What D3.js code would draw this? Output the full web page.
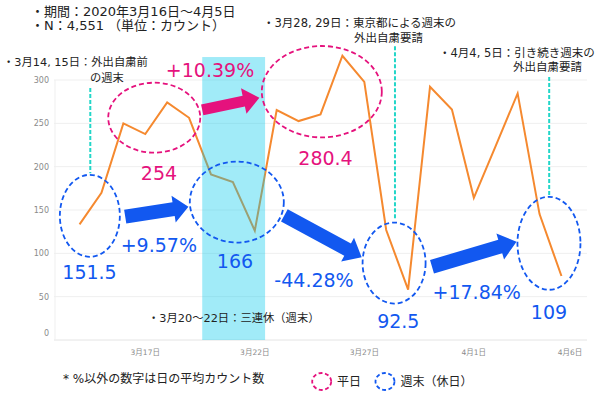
<!DOCTYPE html>
<html>
<head>
<meta charset="utf-8">
<script src="https://cdn.jsdelivr.net/npm/d3@7"></script>
<style>
  body { margin: 0; background: #fff; }
  svg { display: block; }
  text { font-family: "DejaVu Sans", "Noto Sans CJK JP", sans-serif; }
</style>
</head>
<body>
<svg id="chart" width="600" height="395"></svg>
<script>
// daily average counts, 3/14 .. 4/5
var days = ["2020-03-14","2020-03-15","2020-03-16","2020-03-17","2020-03-18","2020-03-19","2020-03-20",
  "2020-03-21","2020-03-22","2020-03-23","2020-03-24","2020-03-25","2020-03-26","2020-03-27","2020-03-28",
  "2020-03-29","2020-03-30","2020-03-31","2020-04-01","2020-04-02","2020-04-03","2020-04-04","2020-04-05"];
var counts = [133.4, 169.9, 249.9, 237.6, 274.2, 256.4, 191.1, 182.2, 126.1, 265.3, 252.6, 260.3, 328,
  297.9, 126.9, 58.1, 292.1, 266, 164.1, 224, 284.5, 145.3, 73.8];

var xTickDays = ["2020-03-17","2020-03-22","2020-03-27","2020-04-01","2020-04-06"];
var xTickLabels = ["3月17日","3月22日","3月27日","4月1日","4月6日"];
var yTicks = [0, 50, 100, 150, 200, 250, 300];

var weekendAvg = ["151.5", "166", "92.5", "109"];
var weekdayAvg = ["254", "280.4"];
var weekendChange = ["+9.57%", "-44.28%", "+17.84%"];
var weekdayChange = ["+10.39%"];

var headerLines = ["・期間：2020年3月16日～4月5日", "・N：4,551 （単位：カウント）"];

var parse = d3.timeParse("%Y-%m-%d");
var data = days.map(function(d, i) { return { date: parse(d), value: counts[i] }; });

var pink = "#e5127d";
var blue = "#1258f0";
var cyan = "#22d6c8";

var svg = d3.select("#chart");
svg.append("rect").attr("width", 600).attr("height", 395).attr("fill", "#fff");

var start = data[0].date;
var end = data[data.length - 1].date;

var x = d3.scaleTime()
  .domain([d3.timeHour.offset(start, -28), d3.timeHour.offset(end, 28)])
  .range([54, 587]);
var y = d3.scaleLinear().domain([0, 300]).range([340, 80]);

// position from day offset (relative to 3/14)
function xi(idx) { return x(d3.timeMinute.offset(start, Math.round(idx * 1440))); }

// grid
var grid = svg.append("g");
grid.selectAll("line")
  .data(yTicks)
  .enter()
  .append("line")
  .attr("x1", 54).attr("x2", 587)
  .attr("y1", function(d) { return y(d); })
  .attr("y2", function(d) { return y(d); })
  .attr("stroke", function(d) { return d === 0 ? "#e4e4e4" : "#efefef"; })
  .attr("stroke-width", 1);
grid.append("line")
  .attr("x1", 55).attr("x2", 55).attr("y1", 80).attr("y2", 340)
  .attr("stroke", "#efefef");

grid.selectAll("text.ytick")
  .data(yTicks)
  .enter()
  .append("text")
  .attr("class", "ytick")
  .attr("x", 49)
  .attr("y", function(d) { return d === 0 ? y(d) - 4 : y(d) + 3; })
  .attr("text-anchor", "end")
  .style("font-size", "8px")
  .style("fill", "#8a8a8a")
  .text(function(d) { return d; });

grid.selectAll("text.xtick")
  .data(xTickDays)
  .enter()
  .append("text")
  .attr("class", "xtick")
  .attr("x", function(d) { return Math.min(x(parse(d)), 570); })
  .attr("y", 355)
  .attr("text-anchor", "middle")
  .style("font-size", "7.5px")
  .style("fill", "#8a8a8a")
  .text(function(d, i) { return xTickLabels[i]; });

// line
var line = d3.line()
  .x(function(d) { return x(d.date); })
  .y(function(d) { return y(d.value); });

svg.append("path")
  .datum(data)
  .attr("d", line)
  .attr("fill", "none")
  .attr("stroke", "#f5892f")
  .attr("stroke-width", 2)
  .attr("stroke-linejoin", "miter");

// holiday band 3/20-3/22 (drawn over the line, translucent)
svg.append("rect")
  .attr("x", xi(5.6))
  .attr("width", xi(8.47) - xi(5.6))
  .attr("y", y(326.5))
  .attr("height", y(0) - y(326.5))
  .attr("fill", "rgb(0,200,236)")
  .attr("opacity", 0.37);

// cyan guide lines
var guides = [
  { idx: 0.49, from: 290.8, to: 192.3 },
  { idx: 14.4, from: 339, to: 138.5 },
  { idx: 21.44, from: 303.5, to: 165.3 }
];
svg.selectAll("line.guide")
  .data(guides)
  .enter()
  .append("line")
  .attr("class", "guide")
  .attr("x1", function(d) { return xi(d.idx); })
  .attr("x2", function(d) { return xi(d.idx); })
  .attr("y1", function(d) { return y(d.from); })
  .attr("y2", function(d) { return y(d.to); })
  .attr("stroke", cyan)
  .attr("stroke-width", 2)
  .attr("stroke-dasharray", "4,2");

// dashed ellipses
var ellipses = [
  { idx: 0.47, val: 143.3, rx: 30, ry: 41, c: blue },
  { idx: 7.18, val: 159.2, rx: 47, ry: 40.5, c: blue },
  { idx: 14.36, val: 88.8, rx: 31.5, ry: 40.5, c: blue },
  { idx: 21.43, val: 111.6, rx: 31.5, ry: 46.5, c: blue },
  { idx: 3.41, val: 256.5, rx: 46, ry: 35, c: pink },
  { idx: 11.06, val: 286.5, rx: 60, ry: 45.7, c: pink }
];
svg.selectAll("ellipse.ring")
  .data(ellipses)
  .enter()
  .append("ellipse")
  .attr("class", "ring")
  .attr("cx", function(d) { return xi(d.idx); })
  .attr("cy", function(d) { return y(d.val); })
  .attr("rx", function(d) { return d.rx; })
  .attr("ry", function(d) { return d.ry; })
  .attr("fill", "none")
  .attr("stroke", function(d) { return d.c; })
  .attr("stroke-width", 1.8)
  .attr("stroke-dasharray", "5,3");

// block arrows
function arrowPath(x0, y0, x1, y1, shaft, headW, headL) {
  var dx = x1 - x0, dy = y1 - y0;
  var len = Math.sqrt(dx * dx + dy * dy);
  var ux = dx / len, uy = dy / len, nx = -uy, ny = ux;
  var bx = x1 - ux * headL, by = y1 - uy * headL;
  var pts = [
    [x0 + nx * shaft / 2, y0 + ny * shaft / 2],
    [bx + nx * shaft / 2, by + ny * shaft / 2],
    [bx + nx * headW / 2, by + ny * headW / 2],
    [x1, y1],
    [bx - nx * headW / 2, by - ny * headW / 2],
    [bx - nx * shaft / 2, by - ny * shaft / 2],
    [x0 - nx * shaft / 2, y0 - ny * shaft / 2]
  ];
  return "M" + pts.join("L") + "Z";
}
var arrows = [
  { a: [5.6, 265.4], b: [8.21, 279.6], shaft: 11, headW: 26, headL: 16, c: pink },
  { a: [2.085, 142.3], b: [4.97, 153.8], shaft: 14, headW: 27, headL: 15, c: blue },
  { a: [9.35, 143.7], b: [12.88, 95.4], shaft: 14, headW: 27, headL: 16, c: blue },
  { a: [16.09, 84.6], b: [19.95, 113.4], shaft: 14, headW: 27, headL: 17, c: blue }
];
svg.selectAll("path.arrow")
  .data(arrows)
  .enter()
  .append("path")
  .attr("class", "arrow")
  .attr("d", function(d) {
    return arrowPath(xi(d.a[0]), y(d.a[1]), xi(d.b[0]), y(d.b[1]), d.shaft, d.headW, d.headL);
  })
  .attr("fill", function(d) { return d.c; });

// big numbers
function bigText(t, px, py, c) {
  svg.append("text")
    .attr("x", px).attr("y", py)
    .attr("text-anchor", "middle")
    .style("font-size", "19px")
    .style("fill", c)
    .text(t);
}
bigText(weekdayChange[0], 210, 77, pink);
bigText(weekdayAvg[0], 159, 180, pink);
bigText(weekdayAvg[1], 325.5, 165, pink);
bigText(weekendAvg[0], 89.5, 279, blue);
bigText(weekendAvg[1], 235, 268, blue);
bigText(weekendAvg[2], 398.3, 328, blue);
bigText(weekendAvg[3], 549, 319, blue);
bigText(weekendChange[0], 158.8, 251.5, blue);
bigText(weekendChange[1], 314, 286.5, blue);
bigText(weekendChange[2], 476.7, 299, blue);

// small notes
function note(t, px, py, size, anchor) {
  svg.append("text")
    .attr("x", px).attr("y", py)
    .attr("text-anchor", anchor || "start")
    .style("font-size", size + "px")
    .style("fill", "#222")
    .text(t);
}
note(headerLines[0], 31, 15.5, 13);
note(headerLines[1], 31, 29.5, 13);
note("・3月14, 15日：外出自粛前", 3, 66, 11.3);
note("の週末", 90, 81.5, 11.3);
note("・3月28, 29日：東京都による週末の", 263, 26.5, 11.5);
note("外出自粛要請", 354, 42, 11.5);
note("・4月4, 5日：引き続き週末の", 439, 56.5, 11.5);
note("外出自粛要請", 513, 70.5, 11.5);
note("・3月20～22日：三連休（週末）", 148, 322, 11.3);
note("* %以外の数字は日の平均カウント数", 63, 383, 12);

// legend
var legend = [
  { c: pink, label: "平日", cx: 321.7, tx: 337 },
  { c: blue, label: "週末（休日）", cx: 385, tx: 400.5 }
];
svg.selectAll("ellipse.leg")
  .data(legend)
  .enter()
  .append("ellipse")
  .attr("class", "leg")
  .attr("cx", function(d) { return d.cx; })
  .attr("cy", 381.5)
  .attr("rx", 9.5).attr("ry", 8.5)
  .attr("fill", "none")
  .attr("stroke", function(d) { return d.c; })
  .attr("stroke-width", 1.8)
  .attr("stroke-dasharray", "4,2.5");
legend.forEach(function(d) { note(d.label, d.tx, 386, 12); });
</script>
</body>
</html>
